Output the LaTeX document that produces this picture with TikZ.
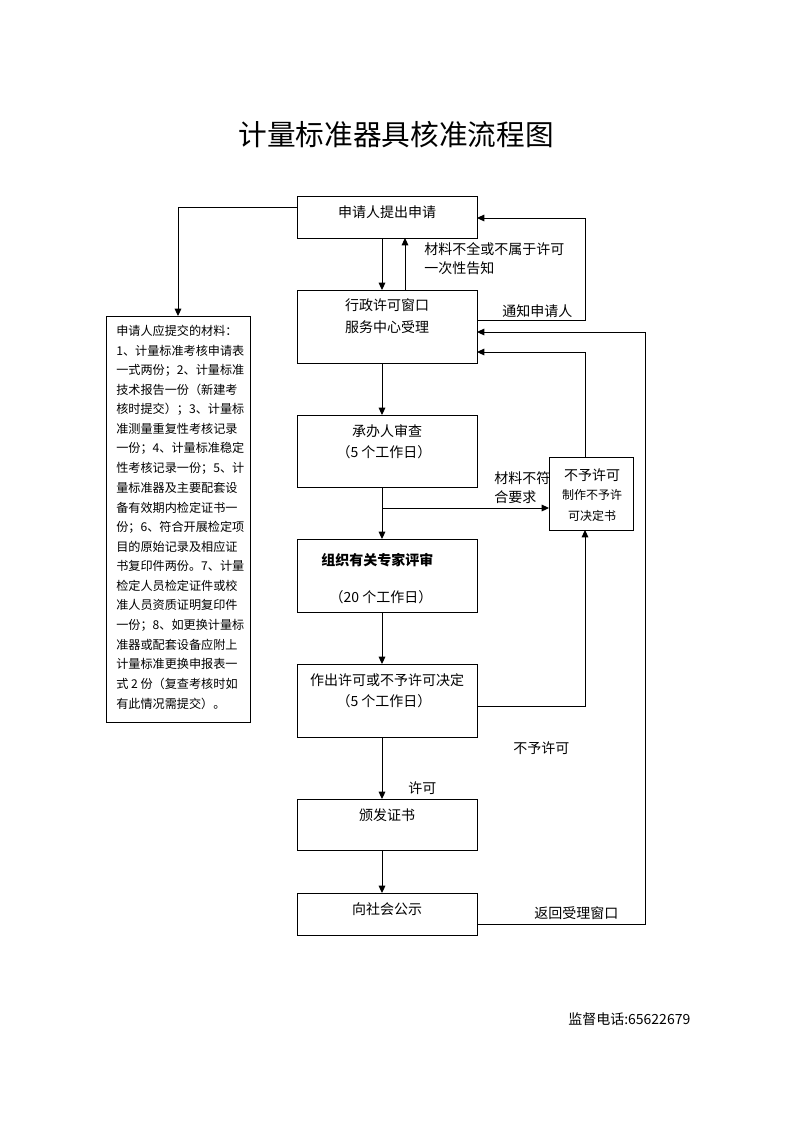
\documentclass[tikz,border=0pt]{standalone}
\usepackage{fontspec}
\setmainfont{Noto Sans CJK SC}
\usetikzlibrary{arrows.meta,calc}
\tikzset{
  box/.style={draw, line width=0.75pt, inner sep=0pt, outer sep=0pt},
  txt/.style={inner sep=0pt, font=\fontsize{10.5}{12}\selectfont},
  small/.style={inner sep=0pt, font=\fontsize{9}{11}\selectfont},
  ltxt/.style={inner sep=0pt, font=\fontsize{9.1}{11}\selectfont},
  lbl/.style={txt, anchor=west},
  ln/.style={line width=0.75pt},
  arr/.style={ln, -{Triangle[length=5.5pt,width=5pt]}},
}
\begin{document}
\begin{tikzpicture}[x=0.75pt,y=-0.75pt]
\useasboundingbox (0,0) rectangle (793,1122);
% title
\node[inner sep=0pt, font=\fontsize{21.5}{24}\selectfont] (title) at (396,135) {计量标准器具核准流程图};
% boxes
\node[box, minimum width=135pt, minimum height=31.5pt] (b1) at (387,217) {};
\node[box, minimum width=135pt, minimum height=54.75pt] (b2) at (387,326.5) {};
\node[box, minimum width=135pt, minimum height=54pt] (b3) at (387,451) {};
\node[box, minimum width=135pt, minimum height=54.75pt] (b4) at (387,575.5) {};
\node[box, minimum width=135pt, minimum height=54.75pt] (b5) at (387,700.5) {};
\node[box, minimum width=135pt, minimum height=38.25pt] (b6) at (387,824.5) {};
\node[box, minimum width=135pt, minimum height=31.5pt] (b7) at (387,914) {};
\node[box, minimum width=63pt, minimum height=54.75pt] (rb) at (591,493.5) {};
\node[box, minimum width=108pt, minimum height=304.5pt] (lb) at (178,519) {};
% box texts
\node[txt] (t1) at (387,212) {申请人提出申请};
\node[txt] (t2a) at (387,305) {行政许可窗口};
\node[txt] (t2b) at (387,327) {服务中心受理};
\node[txt] (t3a) at (387,431) {承办人审查};
\node[txt] (t3b) at (384,452) {（5 个工作日）};
\node[txt, anchor=west, font=\fontsize{10.5}{12}\selectfont\bfseries] (t4a) at (321,560) {组织有关专家评审};
\node[txt] (t4b) at (381,597) {（20 个工作日）};
\node[txt] (t5a) at (387,680) {作出许可或不予许可决定};
\node[txt] (t5b) at (384,701) {（5 个工作日）};
\node[txt] (t6) at (387,815) {颁发证书};
\node[txt] (t7) at (387,909) {向社会公示};
\node[txt] (r1) at (592,475) {不予许可};
\node[small] (r2) at (592,495) {制作不予许};
\node[small] (r3) at (592,516) {可决定书};
% left box text
\foreach \i/\s in {0/申请人应提交的材料：,1/1、计量标准考核申请表,2/一式两份；2、计量标准,3/技术报告一份（新建考,4/核时提交）；3、计量标,5/准测量重复性考核记录,6/一份；4、计量标准稳定,7/性考核记录一份；5、计,8/量标准器及主要配套设,9/备有效期内检定证书一,10/份；6、符合开展检定项,11/目的原始记录及相应证,12/书复印件两份。7、计量,13/检定人员检定证件或校,14/准人员资质证明复印件,15/一份；8、如更换计量标,16/准器或配套设备应附上,17/计量标准更换申报表一,18/式 2 份（复查考核时如,19/有此情况需提交）。}
  \node[ltxt, anchor=west] (lt\i) at (116,331+19.6*\i) {\s};
% labels
\node[lbl] (l1a) at (424,249) {材料不全或不属于许可};
\node[lbl] (l1b) at (424,268) {一次性告知};
\node[lbl] (l2) at (502,311) {通知申请人};
\node[lbl] (l3a) at (494,478) {材料不符};
\node[lbl] (l3b) at (494,497) {合要求};
\node[lbl] (l4) at (513,748) {不予许可};
\node[lbl] (l5) at (408,788) {许可};
\node[lbl] (l6) at (534,913) {返回受理窗口};
\node[lbl] (foot) at (568,1019) {监督电话:65622679};
% connectors
\draw[arr] ($(b1.north west)+(0,11)$) -| (lb.north);
\draw[arr] ($(b1.south)+(-5,0)$) -- ($(b2.north)+(-5,0)$);
\draw[arr] ($(b2.north)+(18,0)$) -- ($(b1.south)+(18,0)$);
\draw[arr] ($(b2.north east)+(0,30)$) -- ++(108,0) |- ($(b1.north east)+(0,22)$);
\draw[arr] ($(b7.north east)+(0,31)$) -- ++(168,0) |- ($(b2.north east)+(0,42)$);
\draw[arr] ($(rb.north)+(-6,0)$) |- ($(b2.north east)+(0,62)$);
\draw[arr] ($(b2.south)+(-5,0)$) -- ($(b3.north)+(-5,0)$);
\draw[arr] ($(b3.south)+(-5,0)$) -- ($(b4.north)+(-5,0)$);
\draw[arr] ($(b3.south)+(-5,21)$) -- ($(rb.south west)+(0,-22)$);
\draw[arr] ($(b4.south)+(-5,0)$) -- ($(b5.north)+(-5,0)$);
\draw[arr] ($(b5.north east)+(0,42)$) -| ($(rb.south)+(-6,0)$);
\draw[arr] ($(b5.south)+(-5,0)$) -- ($(b6.north)+(-5,0)$);
\draw[arr] ($(b6.south)+(-5,0)$) -- ($(b7.north)+(-5,0)$);
\end{tikzpicture}
\end{document}
